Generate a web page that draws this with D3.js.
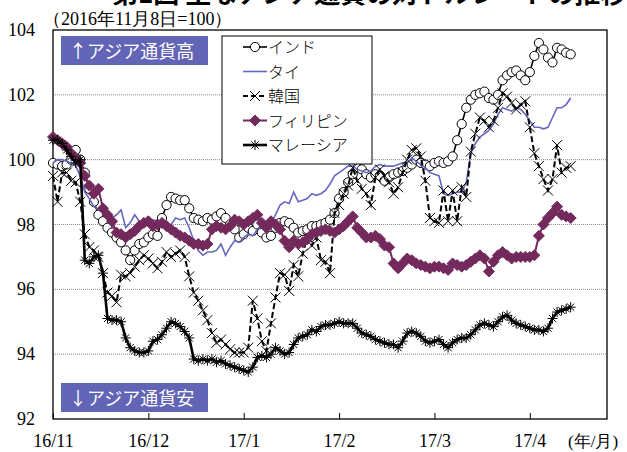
<!DOCTYPE html>
<html>
<head>
<meta charset="utf-8">
<script src="https://cdn.jsdelivr.net/npm/d3@7"></script>
<style>
  html, body { margin: 0; padding: 0; background: #fff; }
  svg { display: block; }
</style>
</head>
<body>
<svg id="chart" width="627" height="452"></svg>
<script>
// Exchange rates vs USD, index 2016-11-08 = 100, business days Nov 2016 – Apr 2017
const monthLabels = ["16/11", "16/12", "17/1", "17/2", "17/3", "17/4"];
const monthStartIndex = [0, 21, 42, 63, 84, 105];
const yTicks = [92, 94, 96, 98, 100, 102, 104];
const seriesNames = ["インド", "タイ", "韓国", "フィリピン", "マレーシア"];

const india = [99.9, 99.85, 99.8, 99.85, 100.0, 100.3, 100.0, 99.6, 99.1, 98.7,
  98.3, 98.1, 97.9, 97.75, 97.6, 97.45, 97.2, 96.9, 97.2, 97.4,
  97.45, 97.6, 97.7, 97.65, 98.2, 98.6, 98.85, 98.8, 98.75, 98.75,
  98.5, 98.2, 98.15, 98.1, 98.2, 98.15, 98.25, 98.35, 98.2, 98.0,
  97.85, 97.6, 97.7, 97.9, 97.8, 98.0, 97.75, 97.6, 97.65, 97.9,
  98.05, 98.1, 98.05, 97.9, 97.75, 97.8, 97.85, 97.95, 97.95, 98.0,
  98.05, 98.15, 98.35, 98.8, 99.0, 99.3, 99.55, 99.75, 99.7, 99.55,
  99.45, 99.55, 99.5, 99.35, 99.45, 99.55, 99.6, 99.65, 99.75, 99.85,
  100.0, 99.9, 99.85, 99.8, 99.9, 99.95, 99.9, 99.95, 100.1, 100.6,
  101.1, 101.6, 101.85, 102.0, 102.05, 102.1, 101.9, 101.85, 102.0, 102.45,
  102.6, 102.7, 102.75, 102.6, 102.45, 102.7, 103.2, 103.6, 103.4, 103.15,
  103.0, 103.45, 103.4, 103.3, 103.25];

const thailand = [99.9, 100.0, 100.0, 99.95, 99.9, 99.8, 99.5, 99.0, 98.8, 98.55,
  98.45, 98.35, 98.25, 98.2, 98.3, 98.45, 97.9, 98.05, 98.3, 98.1,
  97.95, 98.0, 98.15, 98.1, 97.95, 97.9, 98.0, 98.2, 98.15, 98.2,
  97.9, 97.5, 97.2, 97.05, 97.15, 97.15, 97.2, 97.4, 97.05, 97.3,
  97.5, 97.45, 97.6, 97.7, 97.65, 97.85, 98.0, 97.85, 98.05, 98.3,
  98.6, 98.7, 98.65, 99.0, 98.7, 98.75, 98.8, 98.95, 98.9, 98.95,
  99.05, 99.25, 99.5, 99.6, 99.7, 99.8, 99.8, 99.7, 99.65, 99.6,
  99.65, 99.8, 99.85, 99.8, 99.8, 99.8, 99.85, 99.9, 99.9, 100.05,
  99.95, 99.85, 99.75, 99.6, 99.55, 99.5, 98.95, 98.9, 98.95, 99.0,
  99.0, 99.3, 100.2, 100.5, 100.7, 100.8, 100.9, 101.1, 101.4, 101.6,
  101.55, 101.5, 101.6, 101.55, 101.4, 101.2, 101.0, 101.0, 100.95, 101.0,
  101.3, 101.6, 101.6, 101.7, 101.9];

const korea = [99.5, 98.7, 99.6, 99.6, 99.35, 99.3, 98.7, 97.7, 97.3, 97.2,
  97.0, 96.5, 95.9, 95.8, 95.6, 96.45, 96.4, 96.5, 96.7, 96.9,
  97.05, 96.95, 96.8, 96.65, 96.85, 97.15, 97.0, 97.1, 97.2, 97.0,
  96.4, 95.9, 95.65, 95.35, 95.05, 94.65, 94.35, 94.45, 94.3, 94.15,
  94.05, 94.05, 94.05, 94.2, 95.65, 95.1, 94.4, 94.1, 94.95, 95.75,
  96.5, 96.45, 95.95, 96.75, 96.4, 97.1, 97.6, 97.35, 97.6, 96.9,
  96.85, 96.5, 98.35, 98.6, 98.95, 99.2, 99.75, 99.35, 99.1, 98.95,
  98.6, 99.45, 99.7, 99.5, 99.3, 98.95, 99.15, 99.6, 100.0, 100.3,
  100.35, 100.1, 99.35, 98.2, 98.1, 98.05, 99.05, 98.1, 99.05, 98.1,
  99.15, 98.85, 100.25, 100.8, 101.3, 101.2, 101.0, 101.2, 101.6, 102.05,
  101.95, 101.75, 101.55, 101.7, 101.8, 101.0, 100.2, 99.8, 99.4, 99.05,
  99.4, 100.45, 99.6, 99.75, 99.8];

const philippines = [100.7, 100.6, 100.5, 100.4, 100.2, 100.05, 99.9, 99.5, 99.2, 98.95,
  99.1, 98.5, 98.3, 98.1, 97.75, 97.7, 97.6, 97.7, 97.8, 97.95,
  98.05, 98.1, 97.95, 98.0, 98.05, 97.95, 97.85, 97.75, 97.65, 97.6,
  97.5, 97.4, 97.4, 97.35, 97.4, 97.85, 97.95, 97.9, 97.85, 97.95,
  98.15, 98.1, 98.0, 98.1, 98.2, 98.3, 98.05, 97.9, 98.1, 98.0,
  97.85, 97.5, 97.3, 97.5, 97.4, 97.45, 97.55, 97.7, 97.75, 97.8,
  97.85, 97.8, 97.75, 97.85, 97.95, 98.1, 98.25, 97.9, 97.75, 97.6,
  97.6, 97.65, 97.55, 97.35, 97.3, 96.8, 96.65, 96.8, 96.95, 96.9,
  96.8, 96.75, 96.7, 96.65, 96.7, 96.7, 96.65, 96.6, 96.8, 96.75,
  96.7, 96.75, 96.85, 96.95, 97.05, 96.95, 96.55, 96.85, 97.05, 97.15,
  97.05, 96.95, 97.0, 97.0, 97.0, 97.0, 97.05, 97.65, 98.0, 98.2,
  98.35, 98.55, 98.3, 98.25, 98.2];

const malaysia = [100.6, 100.6, 100.5, 100.3, 100.1, 99.9, 100.0, 96.9, 96.8, 97.0,
  97.05, 96.5, 95.1, 95.05, 95.05, 95.0, 94.5, 94.2, 94.1, 94.05,
  94.05, 94.1, 94.4, 94.45, 94.6, 94.8, 95.0, 94.95, 94.85, 94.7,
  94.5, 93.85, 93.8, 93.85, 93.8, 93.85, 93.75, 93.8, 93.7, 93.65,
  93.6, 93.55, 93.5, 93.45, 93.6, 93.9, 93.95, 93.9, 94.0, 94.2,
  94.1, 94.0, 94.05, 94.3, 94.5, 94.55, 94.6, 94.75, 94.7, 94.85,
  94.9, 94.9, 94.95, 95.0, 94.95, 94.95, 94.95, 94.8, 94.65, 94.6,
  94.55, 94.45, 94.4, 94.35, 94.3, 94.3, 94.2, 94.4, 94.65, 94.7,
  94.65, 94.55, 94.4, 94.35, 94.4, 94.45, 94.3, 94.2, 94.35, 94.45,
  94.5, 94.5, 94.6, 94.75, 94.9, 94.95, 94.9, 94.85, 95.0, 95.15,
  95.2, 95.05, 94.95, 94.9, 94.85, 94.8, 94.75, 94.75, 94.7, 94.8,
  95.1, 95.3, 95.35, 95.4, 95.45];

const svg = d3.select("#chart");
const plot = { left: 53, top: 30, right: 607, bottom: 419 };

const x = d3.scaleLinear().domain([0, 122]).range([plot.left, plot.right]);
const y = d3.scaleLinear().domain([92, 104]).range([plot.bottom, plot.top]);

const serif = "'Liberation Serif', 'Times New Roman', serif";
const jp = "'Noto Sans CJK JP', sans-serif";

// Title (top of the figure)
svg.append("text")
  .attr("x", 112).attr("y", 3)
  .attr("font-family", jp).attr("font-weight", "bold").attr("font-size", 26)
  .text("第1図 主なアジア通貨の対ドルレートの推移");

// Base-date note
svg.append("text")
  .attr("x", 43).attr("y", 25)
  .attr("font-family", serif).attr("font-size", 18)
  .text("（2016年11月8日=100）");

// Horizontal dotted gridlines
svg.append("g")
  .selectAll("line")
  .data(yTicks.filter(v => v > 92 && v < 104))
  .join("line")
  .attr("x1", plot.left).attr("x2", plot.right)
  .attr("y1", d => y(d)).attr("y2", d => y(d))
  .attr("stroke", "#888").attr("stroke-width", 1)
  .attr("stroke-dasharray", "1,1");

// Y axis labels
svg.append("g")
  .selectAll("text")
  .data(yTicks)
  .join("text")
  .attr("x", 35).attr("y", d => y(d) + 6)
  .attr("text-anchor", "end")
  .attr("font-family", serif).attr("font-size", 18)
  .text(d => d);

// X axis with month ticks pointing into the plot
const xAxis = d3.axisBottom(x)
  .tickValues(monthStartIndex)
  .tickFormat((d, i) => monthLabels[i])
  .tickSizeInner(-6).tickSizeOuter(0);
const gx = svg.append("g").attr("transform", `translate(0,${plot.bottom})`).call(xAxis);
gx.select(".domain").remove();
gx.selectAll(".tick line").attr("stroke", "#000");
gx.selectAll(".tick text")
  .attr("font-family", serif).attr("font-size", 18).attr("fill", "#000")
  .attr("dy", 0).attr("y", 28);
svg.append("text")
  .attr("x", 568).attr("y", 447)
  .attr("font-family", serif).attr("font-size", 17)
  .text("(年/月)");

// Plot frame
svg.append("rect")
  .attr("x", plot.left).attr("y", plot.top)
  .attr("width", plot.right - plot.left).attr("height", plot.bottom - plot.top)
  .attr("fill", "none").attr("stroke", "#000").attr("stroke-width", 1.3);

// Annotation boxes
const noteFill = "#6264B5";
function noteBox(bx, by, label) {
  svg.append("rect").attr("x", bx).attr("y", by).attr("width", 147).attr("height", 29)
    .attr("fill", noteFill);
  svg.append("text").attr("x", bx + 8).attr("y", by + 22)
    .attr("font-family", jp).attr("font-size", 18).attr("fill", "#fff")
    .text(label);
}
noteBox(61, 36, "↑アジア通貨高");
noteBox(61, 383, "↓アジア通貨安");

const line = d3.line().x((d, i) => x(i)).y(d => y(d));

function crossPath(r) { return `M${-r},${-r}L${r},${r}M${-r},${r}L${r},${-r}`; }
function starPath(r) {
  const q = r * 0.72;
  return `M${-r},0L${r},0M0,${-r}L0,${r}M${-q},${-q}L${q},${q}M${-q},${q}L${q},${-q}`;
}
function diamondPath(r) { return `M0,${-r}L${r},0L0,${r}L${-r},0Z`; }

const series = [
  { name: seriesNames[0], data: india, color: "#000", width: 1.6, dash: null, marker: "circle" },
  { name: seriesNames[1], data: thailand, color: "#6668C0", width: 1.6, dash: null, marker: null },
  { name: seriesNames[2], data: korea, color: "#000", width: 2, dash: "6,3", marker: "cross" },
  { name: seriesNames[3], data: philippines, color: "#74295C", width: 2, dash: null, marker: "diamond" },
  { name: seriesNames[4], data: malaysia, color: "#000", width: 2.6, dash: null, marker: "star" }
];

function drawMarker(g, type, color) {
  if (type === "circle") {
    g.append("circle").attr("r", 4.6).attr("fill", "#fff").attr("stroke", "#000").attr("stroke-width", 1);
  } else if (type === "cross") {
    g.append("path").attr("d", crossPath(5)).attr("stroke", "#000").attr("stroke-width", 1).attr("fill", "none");
  } else if (type === "diamond") {
    g.append("path").attr("d", diamondPath(5.5)).attr("fill", color).attr("stroke", color);
  } else if (type === "star") {
    g.append("path").attr("d", starPath(5)).attr("stroke", "#000").attr("stroke-width", 1).attr("fill", "none");
  }
}

series.forEach(s => {
  const layer = svg.append("g");
  layer.append("path").datum(s.data)
    .attr("d", line).attr("fill", "none")
    .attr("stroke", s.color).attr("stroke-width", s.width)
    .attr("stroke-dasharray", s.dash);
  if (s.marker) {
    layer.selectAll("g.m").data(s.data).join("g").attr("class", "m")
      .attr("transform", (d, i) => `translate(${x(i)},${y(d)})`)
      .each(function () { drawMarker(d3.select(this), s.marker, s.color); });
  }
});

// Legend
const legend = svg.append("g");
legend.append("rect").attr("x", 222).attr("y", 36).attr("width", 150).attr("height", 128)
  .attr("fill", "#fff").attr("stroke", "#000").attr("stroke-width", 1);
series.forEach((s, i) => {
  const ly = 47 + i * 24.5;
  const g = legend.append("g");
  g.append("line").attr("x1", 243).attr("x2", 267).attr("y1", ly).attr("y2", ly)
    .attr("stroke", s.color).attr("stroke-width", s.width)
    .attr("stroke-dasharray", s.dash ? "5,3" : null);
  if (s.marker) {
    const m = g.append("g").attr("transform", `translate(255,${ly})`);
    drawMarker(m, s.marker, s.color);
  }
  g.append("text").attr("x", 268).attr("y", ly + 6)
    .attr("font-family", jp).attr("font-size", 16).attr("font-weight", 300)
    .text(s.name);
});
</script>
</body>
</html>
